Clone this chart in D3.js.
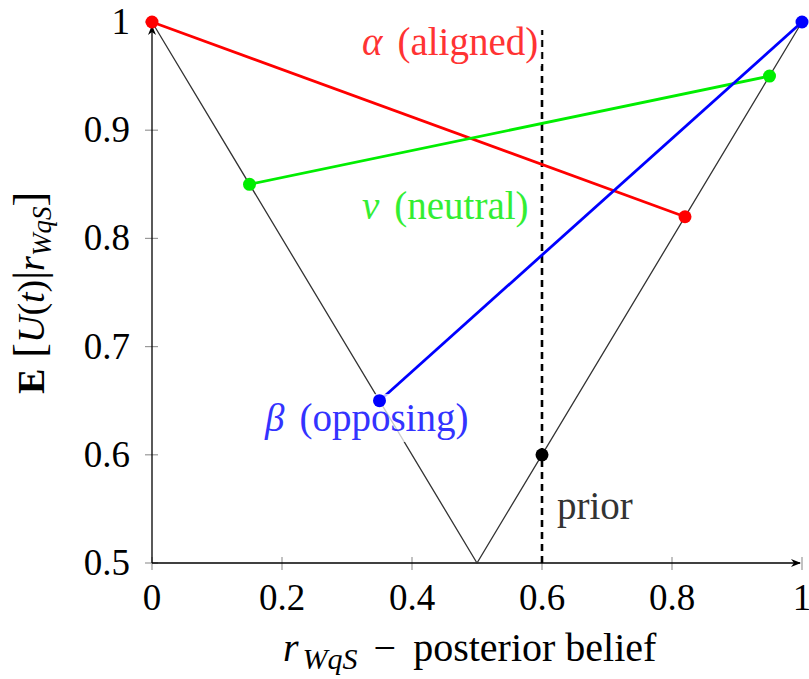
<!DOCTYPE html>
<html>
<head>
<meta charset="utf-8">
<script src="https://cdn.jsdelivr.net/npm/d3@7"></script>
</head>
<body style="margin:0; background:#fff">
<svg id="chart" width="809" height="679"></svg>
<script>
"use strict";

// ── Data ──────────────────────────────────────────────────────────────────────
const xTicks = [0, 0.2, 0.4, 0.6, 0.8, 1];
const yTicks = [0.5, 0.6, 0.7, 0.8, 0.9, 1];
const envelopeX = [0, 0.5, 1];
const envelopeY = [1, 0.5, 1];
const alignedX = [0, 0.82];
const alignedY = [1, 0.82];
const neutralX = [0.15, 0.95];
const neutralY = [0.85, 0.95];
const opposingX = [0.35, 1];
const opposingY = [0.65, 1];
const priorX = 0.6;
const priorY = 0.6;

const FONT = '"Liberation Serif"';
const svg = d3.select("#chart");

const x = d3.scaleLinear().domain([0, 1]).range([152, 802]);
const y = d3.scaleLinear().domain([0.5, 1]).range([563, 22]);

const fmt = d => (d === 0 || d === 1) ? String(d) : d3.format(".1f")(d);
const pts = (xs, ys) => xs.map((v, i) => [v, ys[i]]);
const line = d3.line().x(d => x(d[0])).y(d => y(d[1]));

// arrow marker
svg.append("defs").append("marker")
  .attr("id", "arrow")
  .attr("viewBox", "0 0 10 10")
  .attr("refX", 9).attr("refY", 5)
  .attr("markerWidth", 10).attr("markerHeight", 10)
  .attr("markerUnits", "userSpaceOnUse")
  .attr("orient", "auto")
  .append("path")
  .attr("d", "M0,1 L10,5 L0,9 L3,5 Z")
  .attr("fill", "#000");

// ── Axes ──────────────────────────────────────────────────────────────────────
const ax = svg.append("g");

// ticks (gray, crossing the axis)
ax.selectAll(".xt").data(xTicks).enter().append("line")
  .attr("x1", d => x(d)).attr("x2", d => x(d))
  .attr("y1", y(0.5) - 6).attr("y2", y(0.5) + 7)
  .attr("stroke", "#999").attr("stroke-width", 1.2);

ax.selectAll(".yt").data(yTicks).enter().append("line")
  .attr("x1", x(0) - 7).attr("x2", x(0) + 6)
  .attr("y1", d => y(d)).attr("y2", d => y(d))
  .attr("stroke", "#999").attr("stroke-width", 1.2);

ax.append("line")
  .attr("x1", x(0)).attr("x2", x(1) - 2)
  .attr("y1", y(0.5)).attr("y2", y(0.5))
  .attr("stroke", "#000").attr("stroke-width", 1.3)
  .attr("marker-end", "url(#arrow)");

ax.append("line")
  .attr("x1", x(0)).attr("x2", x(0))
  .attr("y1", y(0.5)).attr("y2", y(1) + 4)
  .attr("stroke", "#000").attr("stroke-width", 1.3)
  .attr("marker-end", "url(#arrow)");

ax.selectAll(".xl").data(xTicks).enter().append("text")
  .attr("x", d => x(d)).attr("y", 610)
  .attr("text-anchor", "middle")
  .style("font-family", FONT)
  .attr("font-size", 37)
  .text(fmt);

ax.selectAll(".yl").data(yTicks).enter().append("text")
  .attr("x", 130).attr("y", d => y(d) + 12)
  .attr("text-anchor", "end")
  .style("font-family", FONT)
  .attr("font-size", 37)
  .text(fmt);

// x axis title
const xt = svg.append("text")
  .attr("x", 283).attr("y", 661)
  .style("font-family", FONT)
  .attr("font-size", 40);
xt.append("tspan").attr("font-style", "italic").text("r");
xt.append("tspan").attr("font-style", "italic").attr("font-size", 30).attr("dx", 4).attr("dy", 8).text("WqS");
xt.append("tspan").attr("dx", 16).attr("dy", -8).text("\u2212");
xt.append("tspan").attr("dx", 17).text("posterior belief");

// y axis title
const yt = svg.append("text")
  .attr("transform", "translate(44,293) rotate(-90)")
  .attr("text-anchor", "middle")
  .style("font-family", FONT)
  .attr("font-size", 38);
yt.append("tspan").attr("font-weight", "bold").text("E");
yt.append("tspan").attr("font-size", 44).text(" [");
yt.append("tspan").attr("font-style", "italic").text("U");
yt.append("tspan").text("(");
yt.append("tspan").attr("font-style", "italic").text("t");
yt.append("tspan").text(")");
yt.append("tspan").attr("font-size", 44).text("|");
yt.append("tspan").attr("font-style", "italic").text("r");
yt.append("tspan").attr("font-style", "italic").attr("font-size", 27).attr("dy", 7).text("WqS");
yt.append("tspan").attr("font-size", 44).attr("dy", -7).text("]");

// ── Plot lines ────────────────────────────────────────────────────────────────
const plot = svg.append("g");

plot.append("path")
  .attr("d", line(pts(envelopeX, envelopeY)))
  .attr("fill", "none").attr("stroke", "#333").attr("stroke-width", 1.3);

plot.append("line")
  .attr("x1", x(priorX)).attr("x2", x(priorX))
  .attr("y1", y(0.5)).attr("y2", 30)
  .attr("stroke", "#000").attr("stroke-width", 2.6)
  .attr("stroke-dasharray", "7,5");

const series = [
  { xs: alignedX, ys: alignedY, color: "#ff0000" },
  { xs: neutralX, ys: neutralY, color: "#00ee00" },
  { xs: opposingX, ys: opposingY, color: "#0000ff" }
];

series.forEach(s => {
  plot.append("path")
    .attr("d", line(pts(s.xs, s.ys)))
    .attr("fill", "none").attr("stroke", s.color).attr("stroke-width", 2.8);
});

// ── Labels with translucent white background ─────────────────────────────────
const labels = [
  { sym: "\u03b1", txt: "(aligned)", color: "#ff3333", x: 362, y: 55 },
  { sym: "\u03bd", txt: "(neutral)", color: "#33ee33", x: 362, y: 219 },
  { sym: "\u03b2", txt: "(opposing)", color: "#3333ff", x: 265, y: 431 },
  { sym: "", txt: "prior", color: "#333", x: 557, y: 519 }
];

const lg = svg.append("g");
labels.forEach(l => {
  const g = lg.append("g");
  const rect = g.append("rect").attr("fill", "#fff").attr("fill-opacity", 0.75);
  const t = g.append("text")
    .attr("x", l.x).attr("y", l.y)
    .style("font-family", FONT)
    .attr("font-size", 39)
    .attr("fill", l.color);
  if (l.sym) {
    t.append("tspan").attr("font-style", "italic").text(l.sym);
    t.append("tspan").attr("dx", 15).text(l.txt);
  } else {
    t.append("tspan").text(l.txt);
  }
  const b = t.node().getBBox();
  rect.attr("x", b.x - 3).attr("y", b.y - 2)
    .attr("width", b.width + 6).attr("height", b.height + 4);
});

// ── Dots ──────────────────────────────────────────────────────────────────────
const dots = svg.append("g");
series.forEach(s => {
  dots.selectAll(null).data(pts(s.xs, s.ys)).enter().append("circle")
    .attr("cx", d => x(d[0])).attr("cy", d => y(d[1]))
    .attr("r", 6.5).attr("fill", s.color);
});
dots.append("circle")
  .attr("cx", x(priorX)).attr("cy", y(priorY))
  .attr("r", 6.5).attr("fill", "#000");

// label texts above the dots, their backgrounds below
lg.selectAll("text").each(function() { svg.node().appendChild(this); });
</script>
</body>
</html>
